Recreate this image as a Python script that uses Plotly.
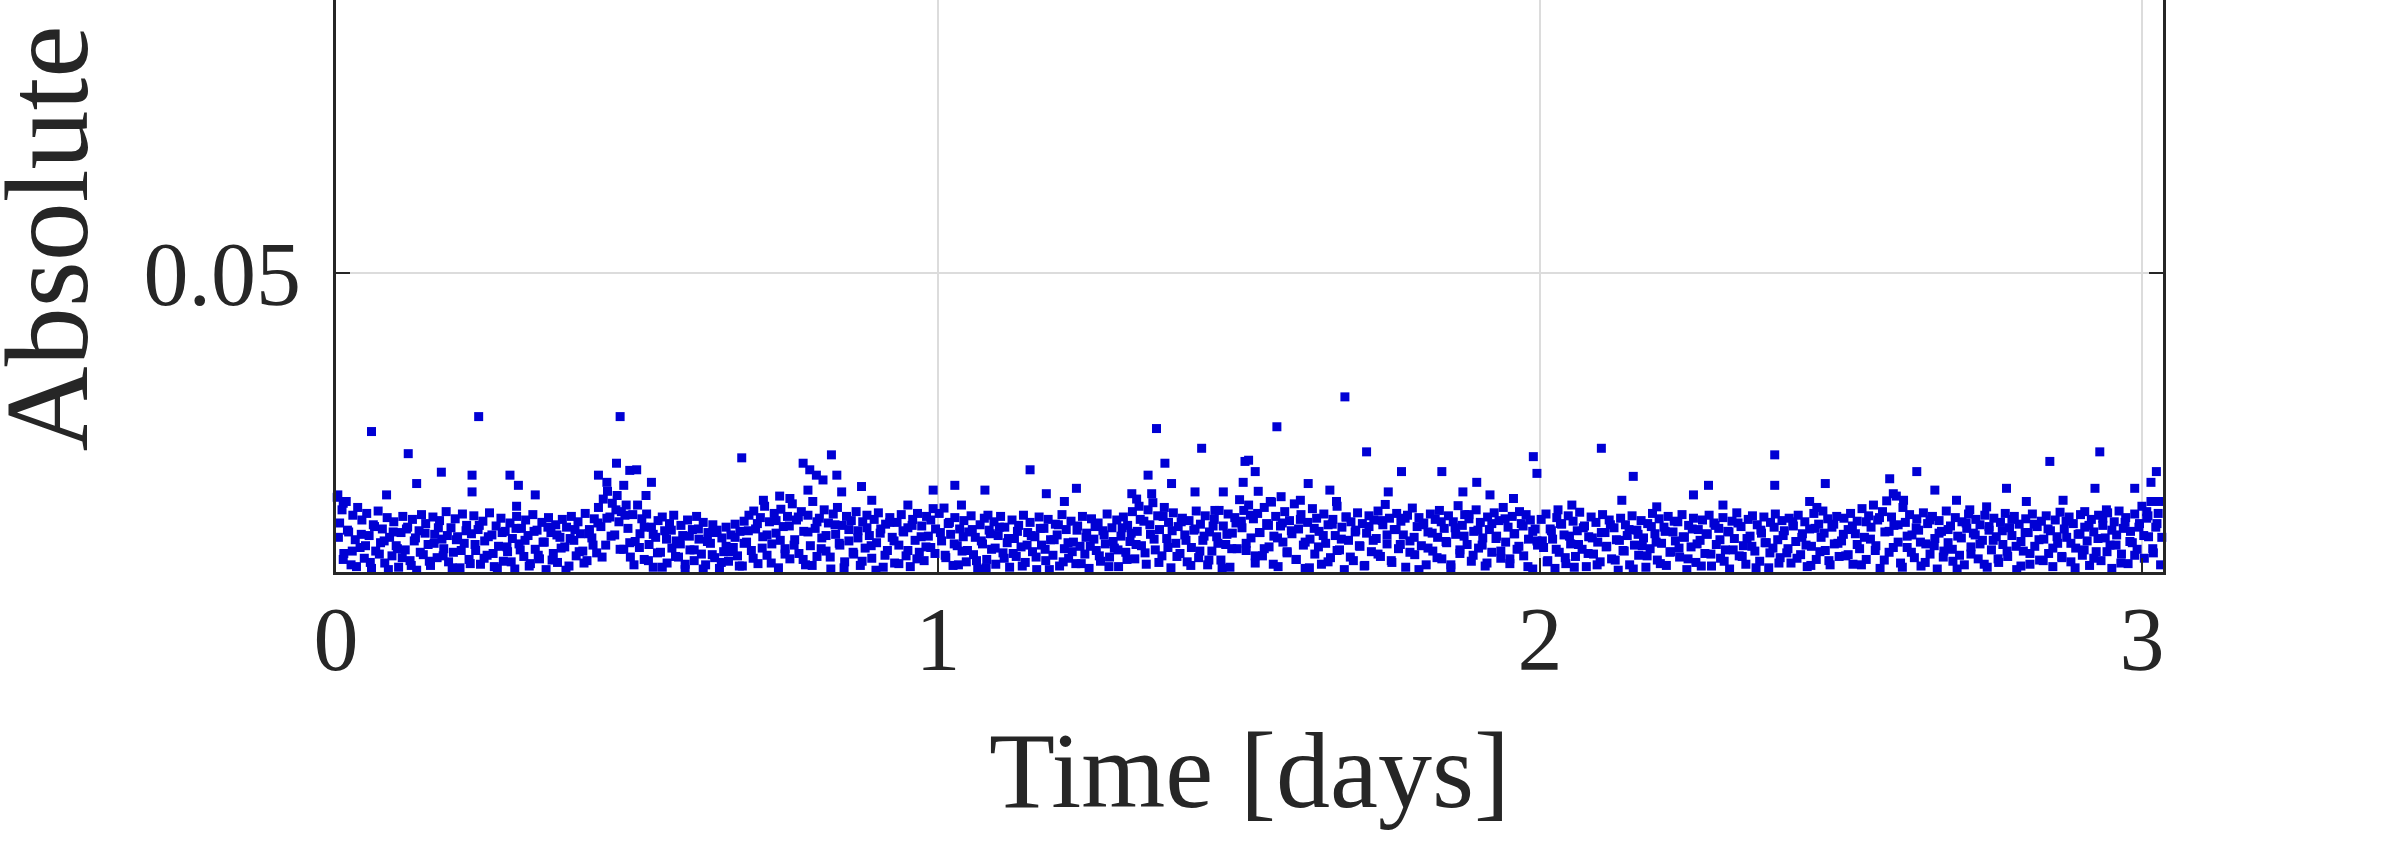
import plotly.graph_objects as go

# absolute error vs time per half-day segment
t_seg1 = [0.002, 0.006, 0.010, 0.013, 0.017, 0.021, 0.025, 0.028, 0.032, 0.036,
          0.040, 0.043, 0.047, 0.051, 0.055, 0.059, 0.062, 0.066, 0.070, 0.074,
          0.077, 0.081, 0.085, 0.089, 0.093, 0.096, 0.100, 0.104, 0.108, 0.111,
          0.115, 0.119, 0.123, 0.127, 0.130, 0.134, 0.138, 0.142, 0.145, 0.149,
          0.153, 0.157, 0.161, 0.164, 0.168, 0.172, 0.176, 0.179, 0.183, 0.187,
          0.191, 0.195, 0.198, 0.202, 0.206, 0.210, 0.213, 0.217, 0.221, 0.225,
          0.229, 0.232, 0.236, 0.240, 0.244, 0.247, 0.251, 0.255, 0.259, 0.263,
          0.266, 0.270, 0.274, 0.278, 0.281, 0.285, 0.289, 0.293, 0.297, 0.300,
          0.304, 0.308, 0.312, 0.315, 0.319, 0.323, 0.327, 0.331, 0.334, 0.338,
          0.342, 0.346, 0.349, 0.353, 0.357, 0.361, 0.365, 0.368, 0.372, 0.376,
          0.380, 0.383, 0.387, 0.391, 0.395, 0.399, 0.402, 0.406, 0.410, 0.414,
          0.417, 0.421, 0.425, 0.429, 0.433, 0.436, 0.440, 0.444, 0.448, 0.451,
          0.455, 0.459, 0.463, 0.467, 0.470, 0.474, 0.478, 0.482, 0.485, 0.489,
          0.493, 0.497]
err_seg1 = [0.0125, 0.0082, 0.0104, 0.0031, 0.0118, 0.0067, 0.0012, 0.0095, 0.0054, 0.0108,
            0.0041, 0.0087, 0.0023, 0.0098, 0.0061, 0.0006, 0.0079, 0.0035, 0.0102, 0.0049,
            0.0072, 0.0015, 0.0091, 0.0058, 0.0027, 0.0084, 0.0044, 0.0008, 0.0066, 0.0093,
            0.0037, 0.0075, 0.0019, 0.0088, 0.0052, 0.0003, 0.0069, 0.0096, 0.0029, 0.0081,
            0.0046, 0.0011, 0.0092, 0.0063, 0.0024, 0.0086, 0.0055, 0.0039, 0.0101, 0.0017,
            0.0074, 0.0033, 0.0089, 0.0059, 0.0007, 0.0097, 0.0048, 0.0078, 0.0021, 0.0064,
            0.0094, 0.0036, 0.0071, 0.0013, 0.0085, 0.0052, 0.0028, 0.0099, 0.0062, 0.0009,
            0.0077, 0.0043, 0.0090, 0.0018, 0.0068, 0.0034, 0.0082, 0.0056, 0.0005, 0.0093,
            0.0047, 0.0073, 0.0026, 0.0087, 0.0061, 0.0014, 0.0096, 0.0038, 0.0070, 0.0022,
            0.0083, 0.0050, 0.0004, 0.0091, 0.0066, 0.0031, 0.0079, 0.0016, 0.0058, 0.0088,
            0.0042, 0.0075, 0.0010, 0.0093, 0.0053, 0.0027, 0.0084, 0.0064, 0.0035, 0.0098,
            0.0019, 0.0071, 0.0057, 0.0089, 0.0032, 0.0108, 0.0076, 0.0122, 0.0045, 0.0135,
            0.0092, 0.0115, 0.0062, 0.0128, 0.0084, 0.0101, 0.0038, 0.0112, 0.0073, 0.0025,
            0.0096, 0.0051]
t_seg1b = [0.004, 0.012, 0.019, 0.027, 0.034, 0.042, 0.049, 0.057, 0.064, 0.072,
           0.080, 0.087, 0.095, 0.102, 0.110, 0.117, 0.125, 0.132, 0.140, 0.148,
           0.155, 0.163, 0.170, 0.178, 0.185, 0.193, 0.200, 0.208, 0.216, 0.223,
           0.231, 0.238, 0.246, 0.253, 0.261, 0.268, 0.276, 0.284, 0.291, 0.299,
           0.306, 0.314, 0.321, 0.329, 0.336, 0.344, 0.352, 0.359, 0.367, 0.374,
           0.382, 0.389, 0.397, 0.404, 0.412, 0.420, 0.427, 0.435, 0.442, 0.450,
           0.457, 0.465, 0.472, 0.480, 0.488, 0.495]
err_seg1b = [0.0058, 0.0021, 0.0070, 0.0035, 0.0009, 0.0063, 0.0044, 0.0016, 0.0076, 0.0030,
             0.0052, 0.0004, 0.0067, 0.0039, 0.0024, 0.0072, 0.0011, 0.0057, 0.0033, 0.0065,
             0.0018, 0.0048, 0.0074, 0.0027, 0.0061, 0.0007, 0.0054, 0.0036, 0.0069, 0.0014,
             0.0046, 0.0078, 0.0023, 0.0059, 0.0031, 0.0006, 0.0066, 0.0042, 0.0017, 0.0073,
             0.0037, 0.0053, 0.0010, 0.0068, 0.0028, 0.0050, 0.0075, 0.0020, 0.0062, 0.0040,
             0.0003, 0.0056, 0.0071, 0.0034, 0.0015, 0.0064, 0.0045, 0.0082, 0.0025, 0.0090,
             0.0060, 0.0104, 0.0038, 0.0095, 0.0049, 0.0012]

t_seg2 = [0.501, 0.505, 0.508, 0.512, 0.516, 0.520, 0.524, 0.527, 0.531, 0.535,
          0.539, 0.542, 0.546, 0.550, 0.554, 0.558, 0.561, 0.565, 0.569, 0.573,
          0.576, 0.580, 0.584, 0.588, 0.592, 0.595, 0.599, 0.603, 0.607, 0.610,
          0.614, 0.618, 0.622, 0.626, 0.629, 0.633, 0.637, 0.641, 0.644, 0.648,
          0.652, 0.656, 0.660, 0.663, 0.667, 0.671, 0.675, 0.678, 0.682, 0.686,
          0.690, 0.694, 0.697, 0.701, 0.705, 0.709, 0.712, 0.716, 0.720, 0.724,
          0.728, 0.731, 0.735, 0.739, 0.743, 0.746, 0.750, 0.754, 0.758, 0.762,
          0.765, 0.769, 0.773, 0.777, 0.780, 0.784, 0.788, 0.792, 0.796, 0.799,
          0.803, 0.807, 0.811, 0.814, 0.818, 0.822, 0.826, 0.830, 0.833, 0.837,
          0.841, 0.845, 0.848, 0.852, 0.856, 0.860, 0.864, 0.867, 0.871, 0.875,
          0.879, 0.882, 0.886, 0.890, 0.894, 0.898, 0.901, 0.905, 0.909, 0.913,
          0.916, 0.920, 0.924, 0.928, 0.932, 0.935, 0.939, 0.943, 0.947, 0.950,
          0.954, 0.958, 0.962, 0.966, 0.969, 0.973, 0.977, 0.981, 0.984, 0.988,
          0.992, 0.996]
err_seg2 = [0.0112, 0.0064, 0.0089, 0.0021, 0.0097, 0.0046, 0.0075, 0.0008, 0.0058, 0.0086,
            0.0033, 0.0092, 0.0069, 0.0015, 0.0081, 0.0040, 0.0095, 0.0052, 0.0025, 0.0078,
            0.0061, 0.0004, 0.0087, 0.0037, 0.0071, 0.0019, 0.0093, 0.0055, 0.0030, 0.0083,
            0.0012, 0.0066, 0.0048, 0.0079, 0.0024, 0.0070, 0.0006, 0.0057, 0.0034, 0.0075,
            0.0018, 0.0062, 0.0041, 0.0080, 0.0027, 0.0068, 0.0010, 0.0085, 0.0050, 0.0095,
            0.0036, 0.0102, 0.0072, 0.0014, 0.0091, 0.0059, 0.0110, 0.0028, 0.0084, 0.0047,
            0.0098, 0.0065, 0.0007, 0.0105, 0.0076, 0.0039, 0.0093, 0.0022, 0.0114, 0.0054,
            0.0087, 0.0031, 0.0101, 0.0068, 0.0012, 0.0095, 0.0044, 0.0118, 0.0073, 0.0026,
            0.0090, 0.0057, 0.0104, 0.0035, 0.0082, 0.0005, 0.0097, 0.0063, 0.0108, 0.0045,
            0.0078, 0.0017, 0.0093, 0.0052, 0.0086, 0.0030, 0.0101, 0.0069, 0.0011, 0.0084,
            0.0040, 0.0095, 0.0061, 0.0023, 0.0088, 0.0049, 0.0099, 0.0072, 0.0008, 0.0080,
            0.0036, 0.0091, 0.0058, 0.0015, 0.0083, 0.0045, 0.0096, 0.0067, 0.0027, 0.0074,
            0.0009, 0.0088, 0.0053, 0.0098, 0.0033, 0.0077, 0.0019, 0.0093, 0.0060, 0.0041,
            0.0106, 0.0072]
t_seg2b = [0.504, 0.512, 0.519, 0.527, 0.534, 0.542, 0.549, 0.557, 0.564, 0.572,
           0.580, 0.587, 0.595, 0.602, 0.610, 0.617, 0.625, 0.632, 0.640, 0.648,
           0.655, 0.663, 0.670, 0.678, 0.685, 0.693, 0.700, 0.708, 0.716, 0.723,
           0.731, 0.738, 0.746, 0.753, 0.761, 0.768, 0.776, 0.784, 0.791, 0.799,
           0.806, 0.814, 0.821, 0.829, 0.836, 0.844, 0.852, 0.859, 0.867, 0.874,
           0.882, 0.889, 0.897, 0.904, 0.912, 0.920, 0.927, 0.935, 0.942, 0.950,
           0.957, 0.965, 0.972, 0.980, 0.988, 0.995]
err_seg2b = [0.0041, 0.0075, 0.0019, 0.0063, 0.0032, 0.0008, 0.0055, 0.0070, 0.0026, 0.0047,
             0.0013, 0.0060, 0.0037, 0.0072, 0.0005, 0.0051, 0.0029, 0.0066, 0.0016, 0.0043,
             0.0034, 0.0058, 0.0010, 0.0048, 0.0069, 0.0023, 0.0081, 0.0040, 0.0062, 0.0015,
             0.0086, 0.0053, 0.0030, 0.0077, 0.0045, 0.0092, 0.0021, 0.0067, 0.0011, 0.0084,
             0.0039, 0.0061, 0.0025, 0.0079, 0.0048, 0.0007, 0.0071, 0.0033, 0.0057, 0.0018,
             0.0074, 0.0044, 0.0003, 0.0065, 0.0028, 0.0083, 0.0052, 0.0014, 0.0069, 0.0036,
             0.0078, 0.0022, 0.0059, 0.0042, 0.0087, 0.0031]

t_seg3 = [1.002, 1.006, 1.010, 1.013, 1.017, 1.021, 1.025, 1.028, 1.032, 1.036,
          1.040, 1.043, 1.047, 1.051, 1.055, 1.059, 1.062, 1.066, 1.070, 1.074,
          1.077, 1.081, 1.085, 1.089, 1.093, 1.096, 1.100, 1.104, 1.108, 1.111,
          1.115, 1.119, 1.123, 1.127, 1.130, 1.134, 1.138, 1.142, 1.145, 1.149,
          1.153, 1.157, 1.161, 1.164, 1.168, 1.172, 1.176, 1.179, 1.183, 1.187,
          1.191, 1.195, 1.198, 1.202, 1.206, 1.210, 1.213, 1.217, 1.221, 1.225,
          1.229, 1.232, 1.236, 1.240, 1.244, 1.247, 1.251, 1.255, 1.259, 1.263,
          1.266, 1.270, 1.274, 1.278, 1.281, 1.285, 1.289, 1.293, 1.297, 1.300,
          1.304, 1.308, 1.312, 1.315, 1.319, 1.323, 1.327, 1.331, 1.334, 1.338,
          1.342, 1.346, 1.349, 1.353, 1.357, 1.361, 1.365, 1.368, 1.372, 1.376,
          1.380, 1.383, 1.387, 1.391, 1.395, 1.399, 1.402, 1.406, 1.410, 1.414,
          1.417, 1.421, 1.425, 1.429, 1.433, 1.436, 1.440, 1.444, 1.448, 1.451,
          1.455, 1.459, 1.463, 1.467, 1.470, 1.474, 1.478, 1.482, 1.485, 1.489,
          1.493, 1.497]
err_seg3 = [0.0098, 0.0052, 0.0107, 0.0024, 0.0081, 0.0063, 0.0011, 0.0091, 0.0044, 0.0072,
            0.0035, 0.0086, 0.0017, 0.0067, 0.0094, 0.0029, 0.0058, 0.0005, 0.0079, 0.0047,
            0.0090, 0.0021, 0.0070, 0.0038, 0.0084, 0.0013, 0.0061, 0.0093, 0.0032, 0.0075,
            0.0049, 0.0008, 0.0087, 0.0056, 0.0026, 0.0078, 0.0042, 0.0095, 0.0016, 0.0066,
            0.0083, 0.0034, 0.0059, 0.0004, 0.0092, 0.0045, 0.0073, 0.0019, 0.0088, 0.0054,
            0.0028, 0.0080, 0.0062, 0.0010, 0.0096, 0.0039, 0.0071, 0.0023, 0.0085, 0.0050,
            0.0014, 0.0077, 0.0043, 0.0093, 0.0030, 0.0065, 0.0006, 0.0089, 0.0055, 0.0036,
            0.0082, 0.0018, 0.0069, 0.0047, 0.0097, 0.0025, 0.0074, 0.0040, 0.0087, 0.0009,
            0.0060, 0.0092, 0.0033, 0.0078, 0.0051, 0.0101, 0.0022, 0.0068, 0.0110, 0.0044,
            0.0085, 0.0013, 0.0104, 0.0063, 0.0116, 0.0037, 0.0094, 0.0071, 0.0027, 0.0108,
            0.0056, 0.0083, 0.0007, 0.0099, 0.0048, 0.0076, 0.0031, 0.0090, 0.0062, 0.0017,
            0.0086, 0.0041, 0.0070, 0.0102, 0.0024, 0.0080, 0.0053, 0.0094, 0.0012, 0.0067,
            0.0035, 0.0088, 0.0059, 0.0103, 0.0020, 0.0077, 0.0046, 0.0097, 0.0008, 0.0065,
            0.0091, 0.0039]
t_seg3b = [1.004, 1.012, 1.019, 1.027, 1.034, 1.042, 1.049, 1.057, 1.064, 1.072,
           1.080, 1.087, 1.095, 1.102, 1.110, 1.117, 1.125, 1.132, 1.140, 1.148,
           1.155, 1.163, 1.170, 1.178, 1.185, 1.193, 1.200, 1.208, 1.216, 1.223,
           1.231, 1.238, 1.246, 1.253, 1.261, 1.268, 1.276, 1.284, 1.291, 1.299,
           1.306, 1.314, 1.321, 1.329, 1.336, 1.344, 1.352, 1.359, 1.367, 1.374,
           1.382, 1.389, 1.397, 1.404, 1.412, 1.420, 1.427, 1.435, 1.442, 1.450,
           1.457, 1.465, 1.472, 1.480, 1.488, 1.495]
err_seg3b = [0.0066, 0.0028, 0.0083, 0.0047, 0.0012, 0.0059, 0.0036, 0.0071, 0.0019, 0.0052,
             0.0007, 0.0064, 0.0040, 0.0075, 0.0023, 0.0056, 0.0031, 0.0068, 0.0010, 0.0045,
             0.0061, 0.0025, 0.0073, 0.0038, 0.0004, 0.0054, 0.0079, 0.0017, 0.0049, 0.0034,
             0.0070, 0.0014, 0.0058, 0.0043, 0.0076, 0.0027, 0.0062, 0.0009, 0.0051, 0.0037,
             0.0074, 0.0021, 0.0065, 0.0046, 0.0088, 0.0032, 0.0079, 0.0055, 0.0016, 0.0093,
             0.0041, 0.0069, 0.0026, 0.0084, 0.0053, 0.0011, 0.0072, 0.0035, 0.0060, 0.0020,
             0.0077, 0.0048, 0.0006, 0.0063, 0.0039, 0.0082]

t_seg4 = [1.501, 1.505, 1.508, 1.512, 1.516, 1.520, 1.524, 1.527, 1.531, 1.535,
          1.539, 1.542, 1.546, 1.550, 1.554, 1.558, 1.561, 1.565, 1.569, 1.573,
          1.576, 1.580, 1.584, 1.588, 1.592, 1.595, 1.599, 1.603, 1.607, 1.610,
          1.614, 1.618, 1.622, 1.626, 1.629, 1.633, 1.637, 1.641, 1.644, 1.648,
          1.652, 1.656, 1.660, 1.663, 1.667, 1.671, 1.675, 1.678, 1.682, 1.686,
          1.690, 1.694, 1.697, 1.701, 1.705, 1.709, 1.712, 1.716, 1.720, 1.724,
          1.728, 1.731, 1.735, 1.739, 1.743, 1.746, 1.750, 1.754, 1.758, 1.762,
          1.765, 1.769, 1.773, 1.777, 1.780, 1.784, 1.788, 1.792, 1.796, 1.799,
          1.803, 1.807, 1.811, 1.814, 1.818, 1.822, 1.826, 1.830, 1.833, 1.837,
          1.841, 1.845, 1.848, 1.852, 1.856, 1.860, 1.864, 1.867, 1.871, 1.875,
          1.879, 1.882, 1.886, 1.890, 1.894, 1.898, 1.901, 1.905, 1.909, 1.913,
          1.916, 1.920, 1.924, 1.928, 1.932, 1.935, 1.939, 1.943, 1.947, 1.950,
          1.954, 1.958, 1.962, 1.966, 1.969, 1.973, 1.977, 1.981, 1.984, 1.988,
          1.992, 1.996]
err_seg4 = [0.0121, 0.0074, 0.0103, 0.0036, 0.0112, 0.0057, 0.0089, 0.0015, 0.0098, 0.0066,
            0.0027, 0.0108, 0.0081, 0.0042, 0.0117, 0.0060, 0.0093, 0.0009, 0.0077, 0.0050,
            0.0101, 0.0032, 0.0086, 0.0064, 0.0114, 0.0021, 0.0072, 0.0096, 0.0045, 0.0006,
            0.0083, 0.0055, 0.0106, 0.0030, 0.0090, 0.0068, 0.0013, 0.0097, 0.0048, 0.0079,
            0.0024, 0.0088, 0.0061, 0.0110, 0.0037, 0.0075, 0.0004, 0.0092, 0.0053, 0.0084,
            0.0019, 0.0070, 0.0099, 0.0043, 0.0081, 0.0011, 0.0065, 0.0094, 0.0034, 0.0087,
            0.0056, 0.0102, 0.0026, 0.0079, 0.0113, 0.0047, 0.0090, 0.0016, 0.0071, 0.0098,
            0.0039, 0.0085, 0.0062, 0.0008, 0.0095, 0.0052, 0.0107, 0.0029, 0.0076, 0.0091,
            0.0044, 0.0082, 0.0012, 0.0067, 0.0097, 0.0035, 0.0088, 0.0058, 0.0103, 0.0022,
            0.0073, 0.0049, 0.0094, 0.0007, 0.0084, 0.0063, 0.0111, 0.0031, 0.0078, 0.0096,
            0.0046, 0.0089, 0.0018, 0.0068, 0.0104, 0.0040, 0.0083, 0.0057, 0.0010, 0.0092,
            0.0071, 0.0033, 0.0099, 0.0060, 0.0086, 0.0023, 0.0108, 0.0050, 0.0075, 0.0014,
            0.0093, 0.0064, 0.0038, 0.0101, 0.0081, 0.0027, 0.0096, 0.0055, 0.0087, 0.0005,
            0.0072, 0.0045]
t_seg4b = [1.504, 1.512, 1.519, 1.527, 1.534, 1.542, 1.549, 1.557, 1.564, 1.572,
           1.580, 1.587, 1.595, 1.602, 1.610, 1.617, 1.625, 1.632, 1.640, 1.648,
           1.655, 1.663, 1.670, 1.678, 1.685, 1.693, 1.700, 1.708, 1.716, 1.723,
           1.731, 1.738, 1.746, 1.753, 1.761, 1.768, 1.776, 1.784, 1.791, 1.799,
           1.806, 1.814, 1.821, 1.829, 1.836, 1.844, 1.852, 1.859, 1.867, 1.874,
           1.882, 1.889, 1.897, 1.904, 1.912, 1.920, 1.927, 1.935, 1.942, 1.950,
           1.957, 1.965, 1.972, 1.980, 1.988, 1.995]
err_seg4b = [0.0085, 0.0048, 0.0095, 0.0027, 0.0066, 0.0039, 0.0078, 0.0013, 0.0057, 0.0082,
             0.0034, 0.0069, 0.0021, 0.0088, 0.0050, 0.0007, 0.0073, 0.0042, 0.0061, 0.0017,
             0.0080, 0.0036, 0.0055, 0.0092, 0.0025, 0.0067, 0.0044, 0.0010, 0.0076, 0.0053,
             0.0030, 0.0086, 0.0062, 0.0019, 0.0071, 0.0046, 0.0090, 0.0033, 0.0058, 0.0004,
             0.0079, 0.0040, 0.0065, 0.0024, 0.0084, 0.0051, 0.0012, 0.0074, 0.0037, 0.0060,
             0.0096, 0.0028, 0.0070, 0.0045, 0.0015, 0.0081, 0.0056, 0.0035, 0.0089, 0.0022,
             0.0064, 0.0043, 0.0077, 0.0009, 0.0068, 0.0052]

t_seg5 = [2.002, 2.006, 2.010, 2.013, 2.017, 2.021, 2.025, 2.028, 2.032, 2.036,
          2.040, 2.043, 2.047, 2.051, 2.055, 2.059, 2.062, 2.066, 2.070, 2.074,
          2.077, 2.081, 2.085, 2.089, 2.093, 2.096, 2.100, 2.104, 2.108, 2.111,
          2.115, 2.119, 2.123, 2.127, 2.130, 2.134, 2.138, 2.142, 2.145, 2.149,
          2.153, 2.157, 2.161, 2.164, 2.168, 2.172, 2.176, 2.179, 2.183, 2.187,
          2.191, 2.195, 2.198, 2.202, 2.206, 2.210, 2.213, 2.217, 2.221, 2.225,
          2.229, 2.232, 2.236, 2.240, 2.244, 2.247, 2.251, 2.255, 2.259, 2.263,
          2.266, 2.270, 2.274, 2.278, 2.281, 2.285, 2.289, 2.293, 2.297, 2.300,
          2.304, 2.308, 2.312, 2.315, 2.319, 2.323, 2.327, 2.331, 2.334, 2.338,
          2.342, 2.346, 2.349, 2.353, 2.357, 2.361, 2.365, 2.368, 2.372, 2.376,
          2.380, 2.383, 2.387, 2.391, 2.395, 2.399, 2.402, 2.406, 2.410, 2.414,
          2.417, 2.421, 2.425, 2.429, 2.433, 2.436, 2.440, 2.444, 2.448, 2.451,
          2.455, 2.459, 2.463, 2.467, 2.470, 2.474, 2.478, 2.482, 2.485, 2.489,
          2.493, 2.497]
err_seg5 = [0.0088, 0.0041, 0.0097, 0.0019, 0.0072, 0.0055, 0.0006, 0.0091, 0.0033, 0.0080,
            0.0062, 0.0014, 0.0094, 0.0047, 0.0085, 0.0026, 0.0069, 0.0100, 0.0038, 0.0077,
            0.0009, 0.0059, 0.0092, 0.0030, 0.0083, 0.0050, 0.0017, 0.0096, 0.0066, 0.0043,
            0.0087, 0.0022, 0.0074, 0.0054, 0.0003, 0.0090, 0.0036, 0.0079, 0.0061, 0.0012,
            0.0094, 0.0045, 0.0070, 0.0028, 0.0086, 0.0057, 0.0008, 0.0081, 0.0039, 0.0098,
            0.0064, 0.0020, 0.0089, 0.0048, 0.0075, 0.0011, 0.0093, 0.0034, 0.0067, 0.0052,
            0.0084, 0.0025, 0.0096, 0.0058, 0.0004, 0.0078, 0.0042, 0.0090, 0.0016, 0.0071,
            0.0053, 0.0087, 0.0031, 0.0063, 0.0095, 0.0010, 0.0082, 0.0046, 0.0073, 0.0023,
            0.0091, 0.0037, 0.0068, 0.0005, 0.0085, 0.0056, 0.0099, 0.0027, 0.0076, 0.0044,
            0.0013, 0.0088, 0.0060, 0.0094, 0.0035, 0.0079, 0.0018, 0.0065, 0.0092, 0.0049,
            0.0007, 0.0083, 0.0040, 0.0097, 0.0054, 0.0024, 0.0086, 0.0069, 0.0032, 0.0090,
            0.0015, 0.0077, 0.0051, 0.0095, 0.0029, 0.0064, 0.0084, 0.0009, 0.0072, 0.0043,
            0.0098, 0.0021, 0.0080, 0.0058, 0.0102, 0.0036, 0.0089, 0.0012, 0.0075, 0.0047,
            0.0093, 0.0026]
t_seg5b = [2.004, 2.012, 2.019, 2.027, 2.034, 2.042, 2.049, 2.057, 2.064, 2.072,
           2.080, 2.087, 2.095, 2.102, 2.110, 2.117, 2.125, 2.132, 2.140, 2.148,
           2.155, 2.163, 2.170, 2.178, 2.185, 2.193, 2.200, 2.208, 2.216, 2.223,
           2.231, 2.238, 2.246, 2.253, 2.261, 2.268, 2.276, 2.284, 2.291, 2.299,
           2.306, 2.314, 2.321, 2.329, 2.336, 2.344, 2.352, 2.359, 2.367, 2.374,
           2.382, 2.389, 2.397, 2.404, 2.412, 2.420, 2.427, 2.435, 2.442, 2.450,
           2.457, 2.465, 2.472, 2.480, 2.488, 2.495]
err_seg5b = [0.0052, 0.0017, 0.0069, 0.0038, 0.0081, 0.0024, 0.0060, 0.0008, 0.0046, 0.0074,
             0.0031, 0.0057, 0.0012, 0.0066, 0.0042, 0.0079, 0.0020, 0.0053, 0.0035, 0.0071,
             0.0005, 0.0063, 0.0044, 0.0027, 0.0076, 0.0050, 0.0014, 0.0068, 0.0033, 0.0085,
             0.0040, 0.0059, 0.0022, 0.0072, 0.0047, 0.0010, 0.0064, 0.0030, 0.0078, 0.0054,
             0.0018, 0.0067, 0.0037, 0.0082, 0.0026, 0.0056, 0.0043, 0.0007, 0.0070, 0.0049,
             0.0032, 0.0075, 0.0015, 0.0061, 0.0039, 0.0084, 0.0023, 0.0058, 0.0045, 0.0011,
             0.0073, 0.0034, 0.0065, 0.0019, 0.0080, 0.0048]

t_seg6 = [2.501, 2.505, 2.508, 2.512, 2.516, 2.520, 2.524, 2.527, 2.531, 2.535,
          2.539, 2.542, 2.546, 2.550, 2.554, 2.558, 2.561, 2.565, 2.569, 2.573,
          2.576, 2.580, 2.584, 2.588, 2.592, 2.595, 2.599, 2.603, 2.607, 2.610,
          2.614, 2.618, 2.622, 2.626, 2.629, 2.633, 2.637, 2.641, 2.644, 2.648,
          2.652, 2.656, 2.660, 2.663, 2.667, 2.671, 2.675, 2.678, 2.682, 2.686,
          2.690, 2.694, 2.697, 2.701, 2.705, 2.709, 2.712, 2.716, 2.720, 2.724,
          2.728, 2.731, 2.735, 2.739, 2.743, 2.746, 2.750, 2.754, 2.758, 2.762,
          2.765, 2.769, 2.773, 2.777, 2.780, 2.784, 2.788, 2.792, 2.796, 2.799,
          2.803, 2.807, 2.811, 2.814, 2.818, 2.822, 2.826, 2.830, 2.833, 2.837,
          2.841, 2.845, 2.848, 2.852, 2.856, 2.860, 2.864, 2.867, 2.871, 2.875,
          2.879, 2.882, 2.886, 2.890, 2.894, 2.898, 2.901, 2.905, 2.909, 2.913,
          2.916, 2.920, 2.924, 2.928, 2.932, 2.935, 2.939, 2.943, 2.947, 2.950,
          2.954, 2.958, 2.962, 2.966, 2.969, 2.973, 2.977, 2.981, 2.984, 2.988,
          2.992, 2.996, 3.000, 3.004, 3.008, 3.011, 3.015, 3.019, 3.023, 3.027,
          3.031]
err_seg6 = [0.0052, 0.0090, 0.0027, 0.0071, 0.0098, 0.0013, 0.0064, 0.0085, 0.0039, 0.0106,
            0.0058, 0.0021, 0.0094, 0.0075, 0.0112, 0.0044, 0.0087, 0.0006, 0.0101, 0.0067,
            0.0119, 0.0033, 0.0092, 0.0078, 0.0127, 0.0050, 0.0015, 0.0108, 0.0083, 0.0041,
            0.0096, 0.0062, 0.0024, 0.0089, 0.0070, 0.0010, 0.0099, 0.0047, 0.0081, 0.0030,
            0.0093, 0.0056, 0.0005, 0.0086, 0.0068, 0.0035, 0.0102, 0.0049, 0.0077, 0.0018,
            0.0091, 0.0060, 0.0028, 0.0084, 0.0012, 0.0073, 0.0097, 0.0042, 0.0065, 0.0088,
            0.0022, 0.0079, 0.0053, 0.0095, 0.0008, 0.0070, 0.0037, 0.0090, 0.0059, 0.0016,
            0.0083, 0.0046, 0.0098, 0.0026, 0.0074, 0.0061, 0.0093, 0.0004, 0.0080, 0.0051,
            0.0035, 0.0089, 0.0066, 0.0013, 0.0097, 0.0043, 0.0076, 0.0020, 0.0085, 0.0055,
            0.0094, 0.0031, 0.0069, 0.0009, 0.0087, 0.0048, 0.0100, 0.0024, 0.0072, 0.0058,
            0.0092, 0.0017, 0.0081, 0.0040, 0.0063, 0.0096, 0.0028, 0.0075, 0.0052, 0.0011,
            0.0088, 0.0067, 0.0034, 0.0095, 0.0019, 0.0078, 0.0057, 0.0099, 0.0045, 0.0006,
            0.0084, 0.0062, 0.0102, 0.0030, 0.0073, 0.0091, 0.0014, 0.0068, 0.0049, 0.0097,
            0.0038, 0.0081, 0.0110, 0.0023, 0.0090, 0.0059, 0.0118, 0.0032, 0.0075, 0.0098,
            0.0012]
t_seg6b = [2.504, 2.512, 2.519, 2.527, 2.534, 2.542, 2.549, 2.557, 2.564, 2.572,
           2.580, 2.587, 2.595, 2.602, 2.610, 2.617, 2.625, 2.632, 2.640, 2.648,
           2.655, 2.663, 2.670, 2.678, 2.685, 2.693, 2.700, 2.708, 2.716, 2.723,
           2.731, 2.738, 2.746, 2.753, 2.761, 2.768, 2.776, 2.784, 2.791, 2.799,
           2.806, 2.814, 2.821, 2.829, 2.836, 2.844, 2.852, 2.859, 2.867, 2.874,
           2.882, 2.889, 2.897, 2.904, 2.912, 2.920, 2.927, 2.935, 2.942, 2.950,
           2.957, 2.965, 2.972, 2.980, 2.988, 2.995, 3.003, 3.010, 3.018, 3.025,
           3.033]
err_seg6b = [0.0063, 0.0029, 0.0077, 0.0046, 0.0012, 0.0084, 0.0055, 0.0036, 0.0091, 0.0020,
             0.0068, 0.0041, 0.0079, 0.0008, 0.0060, 0.0033, 0.0074, 0.0050, 0.0016, 0.0087,
             0.0044, 0.0065, 0.0025, 0.0071, 0.0038, 0.0005, 0.0057, 0.0082, 0.0030, 0.0062,
             0.0047, 0.0013, 0.0076, 0.0053, 0.0022, 0.0069, 0.0035, 0.0088, 0.0043, 0.0010,
             0.0066, 0.0031, 0.0080, 0.0054, 0.0019, 0.0072, 0.0040, 0.0059, 0.0026, 0.0085,
             0.0048, 0.0007, 0.0064, 0.0037, 0.0078, 0.0023, 0.0056, 0.0090, 0.0034, 0.0070,
             0.0045, 0.0015, 0.0083, 0.0051, 0.0028, 0.0075, 0.0061, 0.0094, 0.0039, 0.0081,
             0.0058]

# isolated high points above the dense band
t_high = [0.003, 0.012, 0.059, 0.084, 0.120, 0.134, 0.175, 0.226, 0.226, 0.237,
          0.289, 0.300, 0.303, 0.331, 0.436, 0.450, 0.466, 0.472, 0.478, 0.488,
          0.4995, 0.515, 0.524, 0.674, 0.710, 0.737, 0.754, 0.776, 0.784, 0.787,
          0.798, 0.809, 0.823, 0.832, 0.840, 0.873, 0.890, 0.950, 0.992,
          1.028, 1.039, 1.078, 1.083, 1.153, 1.180, 1.210, 1.230, 1.322, 1.330,
          1.349, 1.355, 1.363, 1.377, 1.388, 1.427, 1.438, 1.460, 1.474, 1.510,
          1.507, 1.516, 1.527, 1.532, 1.552, 1.563, 1.570, 1.602, 1.615, 1.651,
          1.662, 1.676, 1.712, 1.748, 1.770, 1.837, 1.872, 1.895, 1.917, 1.956,
          1.989, 1.995, 2.030, 2.053, 2.102, 2.136, 2.155, 2.194, 2.255, 2.280,
          2.304, 2.390, 2.390, 2.448, 2.460, 2.474, 2.581, 2.587, 2.604, 2.626,
          2.656, 2.692, 2.714, 2.742, 2.775, 2.808, 2.847, 2.869, 2.905, 2.922,
          2.930, 2.941, 2.988, 3.008, 3.015, 3.024, 3.029]
err_high = [0.0129, 0.0115, 0.0235, 0.0129, 0.0198, 0.0148, 0.0167, 0.0162, 0.0134, 0.0260,
            0.0162, 0.0110, 0.0145, 0.0129, 0.0162, 0.0150, 0.0182, 0.0260, 0.0145, 0.0170,
            0.0171, 0.0128, 0.0150, 0.0191, 0.0120, 0.0127, 0.0123, 0.0182, 0.0137, 0.0171,
            0.0162, 0.0154, 0.0196, 0.0162, 0.0134, 0.0143, 0.0120, 0.0112, 0.0137,
            0.0145, 0.0112, 0.0137, 0.0095, 0.0171, 0.0131, 0.0118, 0.0140, 0.0131, 0.0122,
            0.0162, 0.0131, 0.0240, 0.0182, 0.0148, 0.0134, 0.0207, 0.0103, 0.0134, 0.0185,
            0.0150, 0.0187, 0.0168, 0.0135, 0.0118, 0.0243, 0.0126, 0.0120, 0.0148, 0.0137,
            0.0118, 0.0293, 0.0201, 0.0134, 0.0168, 0.0168, 0.0134, 0.0150, 0.0129, 0.0123,
            0.0193, 0.0165, 0.0104, 0.0112, 0.0207, 0.0120, 0.0160, 0.0109, 0.0129, 0.0145,
            0.0112, 0.0196, 0.0145, 0.0118, 0.0108, 0.0148, 0.0156, 0.0131, 0.0120, 0.0168,
            0.0137, 0.0120, 0.0104, 0.0109, 0.0140, 0.0118, 0.0185, 0.0120, 0.0101, 0.0140,
            0.0201, 0.0104, 0.0140, 0.0101, 0.0150, 0.0168, 0.0118]

x_ticks = [0, 1, 2, 3]
y_ticks = [0.05]
y_ticks_text = ["0.05"]

AXIS_COLOR = "#262626"
GRID_COLOR = "#dcdcdc"
FONT = "Liberation Serif"

t_all = (t_seg1 + t_seg1b + t_seg2 + t_seg2b + t_seg3 + t_seg3b
         + t_seg4 + t_seg4b + t_seg5 + t_seg5b + t_seg6 + t_seg6b + t_high)
err_all = (err_seg1 + err_seg1b + err_seg2 + err_seg2b + err_seg3 + err_seg3b
           + err_seg4 + err_seg4b + err_seg5 + err_seg5b + err_seg6 + err_seg6b + err_high)

fig = go.Figure()

fig.add_trace(go.Scatter(
    x=t_all,
    y=err_all,
    mode="markers",
    marker=dict(symbol="square", size=9, color="#0000d4", line=dict(width=0)),
    cliponaxis=False,
    showlegend=False,
))

# axis label runs off the top of the crop, like the reference
fig.add_annotation(
    text="Absolute error",
    textangle=-90,
    xref="paper", yref="paper",
    x=-0.158, y=0.207,
    xanchor="center", yanchor="bottom",
    showarrow=False,
    font=dict(family=FONT, size=118, color=AXIS_COLOR),
)
# tick label of 0.1 sits just above the visible area
fig.add_annotation(
    text="0.1",
    xref="paper", yref="y",
    x=-0.017, y=0.1,
    xanchor="right", yanchor="middle",
    showarrow=False,
    font=dict(family=FONT, size=90, color=AXIS_COLOR),
)

fig.update_layout(
    width=2392,
    height=845,
    margin=dict(l=336, r=229, t=0, b=273),
    plot_bgcolor="white",
    paper_bgcolor="white",
    font=dict(family=FONT, color=AXIS_COLOR),
)

fig.update_xaxes(
    range=[0, 3.035],
    tickvals=x_ticks,
    ticks="inside",
    ticklen=14,
    tickwidth=2,
    tickcolor=AXIS_COLOR,
    tickfont=dict(family=FONT, size=90, color=AXIS_COLOR),
    ticklabelstandoff=-13,
    showline=True,
    linecolor=AXIS_COLOR,
    linewidth=3,
    mirror=False,
    showgrid=True,
    gridcolor=GRID_COLOR,
    gridwidth=2,
    zeroline=False,
    automargin=False,
    title=dict(text="Time [days]", font=dict(family=FONT, size=108, color=AXIS_COLOR), standoff=44),
)

fig.update_yaxes(
    range=[0, 0.0957],
    tickvals=y_ticks,
    ticktext=y_ticks_text,
    ticks="inside",
    ticklen=14,
    tickwidth=2,
    tickcolor=AXIS_COLOR,
    tickfont=dict(family=FONT, size=90, color=AXIS_COLOR),
    ticklabelstandoff=14,
    showline=True,
    linecolor=AXIS_COLOR,
    linewidth=3,
    mirror="ticks",
    showgrid=True,
    gridcolor=GRID_COLOR,
    gridwidth=2,
    zeroline=False,
    automargin=False,
)

# the page body has a default 8px margin; drop it so the figure sits at the corner
fig.write_html(
    "out.html",
    config={"displayModeBar": False},
    post_script="document.body.style.margin = '0px';",
)
